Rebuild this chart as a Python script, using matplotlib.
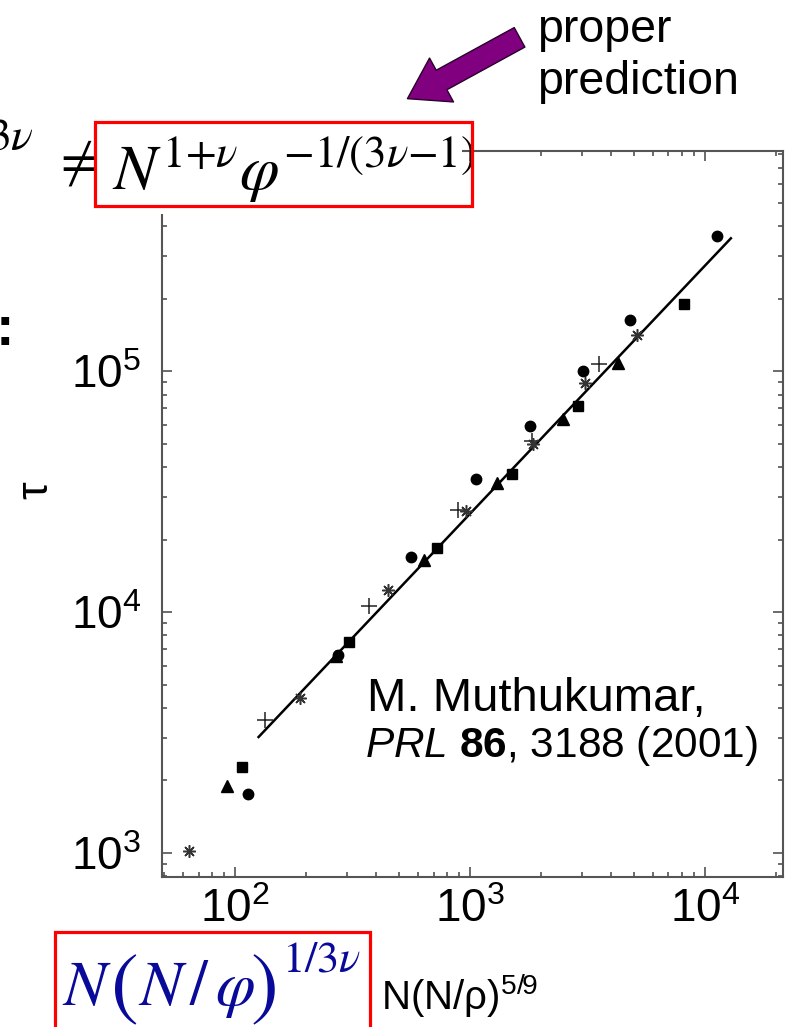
import matplotlib
matplotlib.use("Agg")
import matplotlib.pyplot as plt
from matplotlib.patches import Rectangle

# data (tau vs N(N/rho)^(5/9))
circ_x = [114, 274, 561, 1060, 1800, 3030, 4800, 11250]
circ_y = [1760, 6640, 16900, 35600, 59100, 99700, 163000, 363000]

sq_x = [107, 305, 724, 1510, 2890, 8150]
sq_y = [2280, 7520, 18500, 37400, 71600, 190000]

tri_x = [92.5, 269, 637, 1310, 2490, 4270]
tri_y = [1900, 6560, 16400, 34300, 63200, 108000]

plus_x = [134, 372, 889, 1840, 3540]
plus_y = [3570, 10600, 26500, 51300, 107000]

ast_x = [63.7, 189, 448, 962, 1850, 3080, 5140]
ast_y = [1020, 4400, 12300, 26200, 49800, 89100, 141000]

fit_x = [126, 12900]
fit_y = [3030, 356000]

W, H = 788, 1027


def fx(x):
    return x / W


def fy(y):
    return 1 - y / H


plt.rcParams['font.family'] = ['Liberation Sans', 'DejaVu Sans']
plt.rcParams['mathtext.fontset'] = 'custom'
plt.rcParams['mathtext.rm'] = 'Liberation Sans'
plt.rcParams['mathtext.it'] = 'Liberation Sans:italic'
plt.rcParams['mathtext.bf'] = 'Liberation Sans:bold'

fig = plt.figure(figsize=(W / 100, H / 100), dpi=100)
ax = fig.add_axes([fx(162), fy(877), (783 - 162) / W, (877 - 151) / H])

ax.plot(fit_x, fit_y, color='black', lw=1.8, zorder=2)
ax.plot(circ_x, circ_y, 'o', color='black', ms=7.5, zorder=3)
ax.plot(sq_x, sq_y, 's', color='black', ms=7.5, zorder=3)
ax.plot(tri_x, tri_y, '^', color='black', ms=8, zorder=3)
ax.plot(plus_x, plus_y, '+', color='#222222', ms=11, mew=1.1, zorder=3)
ax.plot(ast_x, ast_y, marker=(8, 2, 0), ls='none', color='#333333', ms=9, mew=1.1, zorder=3)

ax.set_xscale('log')
ax.set_yscale('log')
ax.set_xlim(48.9, 21500)
ax.set_ylim(795, 8.2e5)

ax.tick_params(which='both', direction='in', top=True, right=True, color='#444444', width=1.1)
ax.tick_params(which='major', length=7, labelsize=33)
ax.tick_params(which='minor', length=3.3)
ax.tick_params(axis='x', pad=8)
ax.tick_params(axis='y', pad=15)
for s in ax.spines.values():
    s.set_linewidth(1.5)
    s.set_color('#555555')

ax.set_ylabel('τ', fontsize=32, rotation=90)
ax.yaxis.set_label_coords(-0.17, 0.533)
ax.set_xlabel(r'$\mathrm{N(N/\rho)^{5/9}}$', fontsize=29)
ax.xaxis.set_label_coords(0.48, -0.13)

ax.text(0.33, 0.245, 'M. Muthukumar,', transform=ax.transAxes, fontsize=34, va='center')
ax.text(0.327, 0.18, r'$\mathit{PRL}$ $\mathbf{86}$, 3188 (2001)', transform=ax.transAxes,
        fontsize=30.5, va='center')

# pasted formula on top (white background covers the frame corner)
fig.add_artist(Rectangle((fx(95), fy(214)), (462 - 95) / W, (214 - 112) / H,
                         transform=fig.transFigure, fc='white', ec='none', zorder=5))
fig.add_artist(Rectangle((fx(95), fy(206)), (472 - 95) / W, (206 - 122) / H,
                         transform=fig.transFigure, fc='none', ec='#ff0000', lw=2.3, zorder=7))
fig.text(fx(112), fy(190), r'$N^{1{+}\nu}\varphi^{{-}1/(3\nu{-}1)}$', math_fontfamily='stix',
         fontsize=46, zorder=6)
fig.text(fx(52), fy(178), r'$\neq$', math_fontfamily='stix', fontsize=40, zorder=6)
fig.text(fx(34), fy(150), r'$3\nu$', math_fontfamily='stix', fontsize=33, ha='right', zorder=6)
fig.text(fx(-4), fy(345), ':', fontsize=40, fontweight='bold', zorder=6)

# bottom formula, pieced together like the equation editor image
blue = '#0a0a9a'
fig.add_artist(Rectangle((fx(55), fy(1040)), (370 - 55) / W, (1040 - 932) / H,
                         transform=fig.transFigure, fc='white', ec='#ff0000', lw=2.3, zorder=7))
fig.text(fx(62), fy(1005), r'$N$', math_fontfamily='stix', fontsize=46, color=blue, zorder=8)
fig.text(fx(110), fy(1010), r'$($', math_fontfamily='stix', fontsize=60, color=blue, zorder=8)
fig.text(fx(138), fy(1005), r'$N\,/\,\varphi$', math_fontfamily='stix', fontsize=46,
         color=blue, zorder=8)
fig.text(fx(250), fy(1010), r'$)$', math_fontfamily='stix', fontsize=60, color=blue, zorder=8)
fig.text(fx(282), fy(972), r'$1/3\nu$', math_fontfamily='stix', fontsize=32, color=blue, zorder=8)

# arrow and note
ax.annotate('', xy=(fx(405), fy(100)), xytext=(fx(522), fy(36)),
            xycoords='figure fraction', textcoords='figure fraction',
            arrowprops=dict(arrowstyle='simple,head_length=1.4,head_width=1.8,tail_width=0.8',
                            mutation_scale=20, fc='#800080', ec='#2a002a', lw=1))
fig.text(fx(537), fy(30), 'proper', fontsize=33.5, va='center')
fig.text(fx(537), fy(82), 'prediction', fontsize=33.5, va='center')

fig.savefig('out.png', dpi=100)
